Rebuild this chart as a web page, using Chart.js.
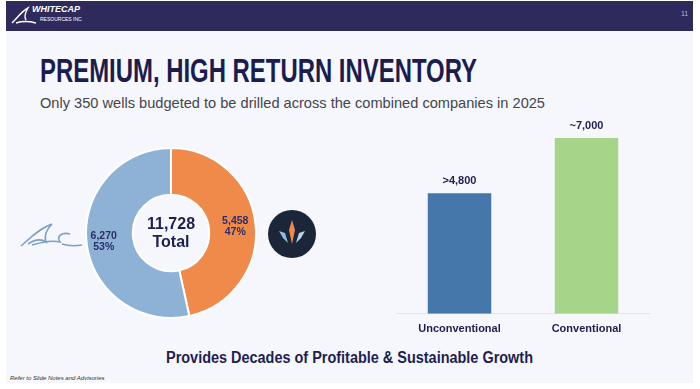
<!DOCTYPE html>
<html>
<head>
<meta charset="utf-8">
<script src="https://cdn.jsdelivr.net/npm/chart.js@4.4.1/dist/chart.umd.min.js"></script>
<style>
  html, body { margin: 0; padding: 0; background: #ffffff; }
  body { width: 700px; height: 389px; position: relative; overflow: hidden; font-family: "Liberation Sans", Arial, sans-serif; }
  #slide { position: absolute; left: 6px; top: 1px; width: 687px; height: 382px; background: #f6f7fc; }
  #header { position: absolute; left: 6px; top: 1px; width: 687px; height: 30px; background: #2e2a5b; }
  .txt { position: absolute; white-space: nowrap; transform-origin: 0 0; }
  #title { left: 40px; top: 51px; font-size: 34px; font-weight: bold; color: #1c1d4e; font-family: "Liberation Sans Narrow", "Liberation Sans", Arial, sans-serif; }
  #subtitle { left: 40px; top: 94px; font-size: 15px; color: #44454d; }
  #bottom { left: 166px; top: 349px; font-size: 16px; font-weight: bold; color: #1e1f4f; font-family: "Liberation Sans Narrow", "Liberation Sans", Arial, sans-serif; }
  #foot { left: 10px; top: 375px; font-size: 6px; font-style: italic; color: #333; }
  #pageno { left: 681px; top: 10px; font-size: 7px; color: #b8b8cc; }
  #logo1 { left: 32px; top: 4px; font-size: 9px; font-weight: bold; font-style: italic; color: #fff; }
  #logo2 { left: 40px; top: 16px; font-size: 5px; color: #fff; }
  #donut { position: absolute; left: 81px; top: 143px; }
  #bars { position: absolute; left: 396px; top: 110px; }
  svg { position: absolute; }
</style>
</head>
<body>
<div id="slide"></div>
<div id="header"></div>
<svg style="left:10px;top:5px" width="30" height="22" viewBox="0 0 30 22">
  <path d="M2 18 C8 12 12 6 18 3 C15 8 14 12 16 15 M6 18 C12 16 18 16 26 18" stroke="#ffffff" stroke-width="1.4" fill="none"/>
</svg>
<div class="txt" id="logo1">WHITECAP</div>
<div class="txt" id="logo2">RESOURCES INC</div>
<div class="txt" id="pageno">11</div>

<div class="txt" id="title" data-w="437">PREMIUM, HIGH RETURN INVENTORY</div>
<div class="txt" id="subtitle" data-w="505">Only 350 wells budgeted to be drilled across the combined companies in 2025</div>

<svg style="left:18px;top:220px" width="66" height="30" viewBox="0 0 66 30">
  <path d="M3 26 C12 18 22 8 34 4 C28 10 26 16 28 22 C22 18 16 20 10 24 M14 25 C24 22 34 20 42 22 C38 16 44 12 52 14 M44 24 C50 26 58 26 64 25" stroke="#7d9fc9" stroke-width="1.6" fill="none"/>
</svg>
<svg style="left:268px;top:210px" width="48" height="48" viewBox="0 0 48 48">
  <circle cx="24" cy="24" r="24" fill="#1b2738"/>
  <path d="M24 10 L27 20 L24 34 L21 20 Z" fill="#ef8a4b"/>
  <path d="M11 21 L17 23 L20 33 L15 28 Z" fill="#8fc0da"/>
  <path d="M37 21 L31 23 L28 33 L33 28 Z" fill="#b8d6ea"/>
</svg>

<canvas id="donut" width="180" height="180"></canvas>
<canvas id="bars" width="254" height="235"></canvas>

<div class="txt" id="bottom" data-w="367">Provides Decades of Profitable &amp; Sustainable Growth</div>
<div class="txt" id="foot">Refer to Slide Notes and Advisories</div>

<script>
// donut data (order = clockwise from the top)
const donutLabels = ['Partner', 'Whitecap'];
const donutValues = [5458, 6270];
const donutPct = ['47%', '53%'];
const donutColors = ['#ef8a4b', '#8db2d6'];
const donutTotal = '11,728';

// inventory bars
const barLabels = ['Unconventional', 'Conventional'];
const barValues = [4800, 7000];
const barTexts = ['>4,800', '~7,000'];
const barColors = ['#4677ab', '#a6d489'];

const navy = '#1e1f4f';

// squeeze the condensed headings to their widths in the slide
document.querySelectorAll('.txt[data-w]').forEach(function(el) {
  const w = el.getBoundingClientRect().width;
  el.style.transform = 'scaleX(' + (parseFloat(el.dataset.w) / w) + ')';
});

const donutText = {
  id: 'donutText',
  afterDatasetsDraw(chart) {
    const ctx = chart.ctx;
    const arcs = chart.getDatasetMeta(0).data;
    ctx.save();
    ctx.textAlign = 'center';
    ctx.textBaseline = 'middle';
    ctx.fillStyle = '#2a2f6b';
    ctx.font = 'bold 10.5px "Liberation Sans", Arial, sans-serif';
    arcs.forEach(function(arc, i) {
      const p = arc.tooltipPosition();
      const dy = i === 1 ? 1 : 0;
      const dx = i === 1 ? -6 : 3;
      ctx.fillText(donutValues[i].toLocaleString('en-US'), p.x + dx, p.y - 5 + dy);
      ctx.fillText(donutPct[i], p.x + dx, p.y + 6 + dy);
    });
    const c = arcs[0];
    ctx.fillStyle = navy;
    ctx.font = 'bold 16px "Liberation Sans", Arial, sans-serif';
    ctx.fillText(donutTotal, c.x, c.y - 8);
    ctx.fillText('Total', c.x, c.y + 10);
    ctx.restore();
  }
};

new Chart(document.getElementById('donut').getContext('2d'), {
  type: 'doughnut',
  data: {
    labels: donutLabels,
    datasets: [{
      data: donutValues,
      backgroundColor: donutColors,
      borderColor: '#ffffff',
      borderWidth: 2
    }]
  },
  options: {
    responsive: false,
    animation: false,
    cutout: '45%',
    layout: { padding: 4 },
    plugins: { legend: { display: false }, tooltip: { enabled: false } }
  },
  plugins: [donutText]
});

const barText = {
  id: 'barText',
  afterDatasetsDraw(chart) {
    const ctx = chart.ctx;
    ctx.save();
    ctx.textAlign = 'center';
    ctx.textBaseline = 'middle';
    ctx.fillStyle = navy;
    ctx.font = 'bold 11px "Liberation Sans", Arial, sans-serif';
    chart.getDatasetMeta(0).data.forEach(function(bar, i) {
      ctx.fillText(barTexts[i], bar.x, bar.y - 12);
    });
    ctx.restore();
  }
};

new Chart(document.getElementById('bars').getContext('2d'), {
  type: 'bar',
  data: {
    labels: barLabels,
    datasets: [{
      data: barValues,
      backgroundColor: barColors,
      barPercentage: 0.5,
      categoryPercentage: 1.0
    }]
  },
  options: {
    responsive: false,
    animation: false,
    layout: { padding: { top: 3 } },
    scales: {
      x: {
        grid: { display: false, drawTicks: false },
        border: { color: '#e3e5ee', width: 1 },
        ticks: { color: navy, padding: 9, font: { family: '"Liberation Sans", Arial, sans-serif', size: 11, weight: 'bold' } }
      },
      y: { display: false, min: 0, max: 8000 }
    },
    plugins: { legend: { display: false }, tooltip: { enabled: false } }
  },
  plugins: [barText]
});
</script>
</body>
</html>
